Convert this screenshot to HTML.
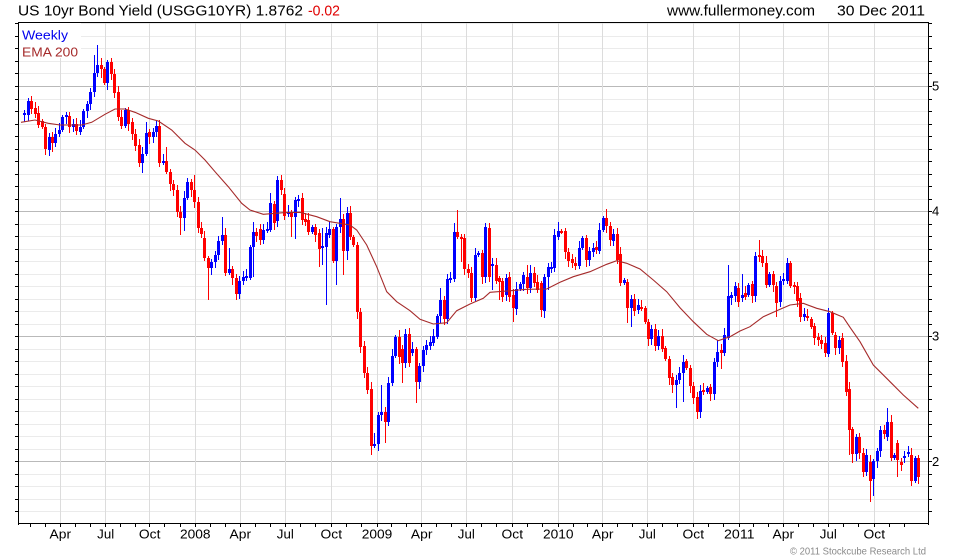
<!DOCTYPE html>
<html><head><meta charset="utf-8">
<style>
html,body{margin:0;padding:0;background:#fff;}
svg{display:block;}
text{font-family:"Liberation Sans",Arial,sans-serif;}
</style></head><body>
<svg id="c" width="980" height="560" viewBox="0 0 980 560" xmlns="http://www.w3.org/2000/svg">
<rect width="980" height="560" fill="#fff"/>
<g id="grid" shape-rendering="crispEdges"></g>
<rect x="19" y="23" width="62" height="35" fill="#fff"/>
<g id="candles" shape-rendering="crispEdges"></g>
<polyline id="ema" fill="none" stroke="#a52a2a" stroke-width="1.1" points=""/>
<g id="axes" shape-rendering="crispEdges"></g>
<g id="labels"></g>
<text x="18" y="15.5" font-size="15" textLength="285" lengthAdjust="spacingAndGlyphs" fill="#000">US 10yr Bond Yield (USGG10YR) 1.8762</text>
<text x="308" y="15.5" font-size="15" textLength="32" lengthAdjust="spacingAndGlyphs" fill="#e00000">-0.02</text>
<text x="667" y="15.5" font-size="15" textLength="148" lengthAdjust="spacingAndGlyphs" fill="#000">www.fullermoney.com</text>
<text x="837" y="15.5" font-size="15" textLength="88" lengthAdjust="spacingAndGlyphs" fill="#000">30 Dec 2011</text>
<text x="22" y="39.5" font-size="13" textLength="46" lengthAdjust="spacingAndGlyphs" fill="#0000ee">Weekly</text>
<text x="22" y="56.5" font-size="13" textLength="56" lengthAdjust="spacingAndGlyphs" fill="#a52a2a">EMA 200</text>
<text x="790" y="554.5" font-size="10.5" textLength="136" lengthAdjust="spacingAndGlyphs" fill="#8a8a8a">© 2011 Stockcube Research Ltd</text>
</svg>
<script>
(function(){
var NS="http://www.w3.org/2000/svg";
function el(parent,tag,attrs,txt){var e=document.createElementNS(NS,tag);for(var k in attrs)e.setAttribute(k,attrs[k]);if(txt!==undefined)e.textContent=txt;parent.appendChild(e);return e;}
var grid=document.getElementById('grid'),axes=document.getElementById('axes'),labels=document.getElementById('labels'),cg=document.getElementById('candles');
function Y(p){return 461.3-(p-2)*125.1;}
var L=18,R=929,T=22,B=524;
// horizontal grid
for(var k=15;k<=55;k++){var p=k/10;var y=Math.round(Y(p))+0.5;if(y<T||y>B)continue;
 var major=(k%10===0);
 el(grid,'line',{x1:L,x2:R,y1:y,y2:y,stroke:major?'#b9b9b9':'#ebebeb','stroke-width':1});
 el(axes,'line',{x1:15,x2:L,y1:y,y2:y,stroke:'#000','stroke-width':1});
 el(axes,'line',{x1:R,x2:R+3,y1:y,y2:y,stroke:'#000','stroke-width':1});
 if(major){el(labels,'text',{x:932,y:Y(p)+4.5,'font-size':13,fill:'#000'},String(k/10));}
}
var Q=[15,60.3,105.7,149.7,195.3,240.3,285.3,331.3,377,421.7,466.3,512.3,558.3,602.7,647.3,693.3,739.3,783.3,828.3,874.3,919.7];
var N=['','Apr','Jul','Oct','2008','Apr','Jul','Oct','2009','Apr','Jul','Oct','2010','Apr','Jul','Oct','2011','Apr','Jul','Oct'];
for(var i=1;i<=19;i++){var x=Math.floor(Q[i])+0.5;
 el(grid,'line',{x1:x,x2:x,y1:T,y2:B,stroke:'#dcdcdc','stroke-width':1});
 var w=N[i].length==4?30.5:(N[i]=='Jul'?17:21.5);
 el(labels,'text',{x:Q[i]-w/2,y:538.5,'font-size':13,fill:'#000',textLength:w,lengthAdjust:'spacingAndGlyphs'},N[i]);
}
for(var i=0;i<Q.length-1;i++){for(var j=0;j<3;j++){var x=Q[i]+(Q[i+1]-Q[i])*j/3;if(x<L+1||x>R-1)continue;x=Math.floor(x)+0.5;
 el(axes,'line',{x1:x,x2:x,y1:B,y2:B+3,stroke:'#000','stroke-width':1});}}
// frame
el(axes,'line',{x1:L+0.5,x2:L+0.5,y1:T,y2:B+1,stroke:'#000','stroke-width':1});
el(axes,'line',{x1:R-0.5,x2:R-0.5,y1:T,y2:B+1,stroke:'#000','stroke-width':1});
el(axes,'line',{x1:L,x2:R,y1:T+0.5,y2:T+0.5,stroke:'#000','stroke-width':1});
el(axes,'line',{x1:L,x2:R,y1:B-0.5,y2:B-0.5,stroke:'#000','stroke-width':1});
var D=[
[115,112.7],[115,101],[101,109],[108.3,114],[113.3,125],[121,126.7],[127.3,149.3],[150,136.7],[136.7,143.3],[143.3,134.3],
[134.3,130],[130,116.7],[116.7,115],[115.7,126.7],[126.7,124.3],[124.3,131],[131.7,126.7],[126.7,111],[111,104.3],[104.3,92.3],
[92.3,73.3],[73.3,65],[65,69.3],[69.3,83.3],[83.3,62.3],[62.3,74.3],[74.3,93.3],[92.3,116.7],[116.7,125.7],[125.7,110],
[110,124.3],[122.3,134.3],[134.3,145.7],[145,163.3],[163.3,154.3],[154.3,133.3],[132.3,137.3],[137.3,131.7],[131.7,125.7],[125.7,163.3],
[162.3,161],[161,171.7],[171.7,184.3],[184.3,190],[190,211.7],[211.7,218.3],[218.3,198.3],[198.3,181.7],[181.7,190],[190,201.7],
[201.7,228.3],[228.3,234.3],[237.7,257.7],[257.7,267.7],[267.7,261.7],[261.7,255],[255,241],[241,235],[235,272.7],[272.7,269.3],
[269.3,277.7],[277.7,294.3],[294.3,281],[281,276.7],[277.7,275.7],[277.7,246.7],[246.7,231.7],[231.7,236],[229.3,240],[240,230],
[230,229.3],[230,202.7],[204,223.3],[220.7,180],[180,190],[194,216],[214.3,211.7],[211.7,216.7],[217.3,200],[200.7,199.3],
[198.3,220],[219.3,221.7],[220,232.3],[232.3,226.7],[227.3,235],[233.3,249],[246.7,245.7],[246.7,233.3],[235,229],[229,260.7],
[260.7,227.3],[227.3,219.3],[219.3,250.7],[250.7,213.3],[213.3,236.7],[236.7,245],[245,311.7],[311.7,346.7],[346,373.3],[373.3,390],
[389.3,446],[446,444.3],[444.3,415],[415,412.3],[412.3,421.7],[421.7,383.3],[383.3,356],[356,336.7],[336.7,356.7],[349.3,362.7],
[362.7,334],[334,362.7],[352.7,349.3],[349.3,381.7],[381.7,366],[366,350],[350,345],[345.7,342.3],[343.3,336],[336.7,316],
[316,300],[300,319.3],[319.3,279.3],[279.3,278.3],[279.3,231.7],[231.7,237.3],[237.3,239.3],[238.3,269.3],[269.3,273.3],[273.3,298.3],
[298.3,255],[255,253.3],[253.3,276.7],[276.7,226.7],[228.3,276.7],[265.7,264.3],[265,281],[278.3,282.3],[281,296.7],[295,278.3],
[276.7,296.7],[295,308.3],[309,289.3],[289,284.3],[284.3,275],[276.7,287.7],[287.7,273.3],[273.3,283.3],[282.3,290],[283.3,310],
[311,276.7],[276.7,266.7],[268.3,266.7],[268.3,235],[236.7,231],[231,232.3],[231,251.7],[251.7,261],[259,263.3],[263.3,265.7],
[265.7,248.3],[248.3,238.3],[238.3,260],[260,251],[251.7,247.7],[246.7,250],[251,230],[230,217.7],[217.7,225.7],[225.7,240],
[241,234.3],[234.3,260],[254.3,283.3],[283.3,280],[281.7,307.7],[308.3,299],[299,311],[310,305],[306.7,308.3],[308.3,322.3],
[321.7,339],[339,329],[329,345.7],[345.7,335.7],[335.7,349],[348.3,359],[359,377.7],[376.7,385],[385,380],[380,373.3],
[373.3,361.7],[361,368.3],[368.3,385.7],[385.7,398.3],[396.7,412.3],[412.3,391],[390,391.7],[391.7,387.7],[386.7,394.3],[394.3,361.7],
[361.7,351.7],[350,352.7],[353.3,335],[338.3,296],[298.3,295],[296,286],[288.3,301.7],[298.3,295],[293.3,296.7],[295,285],
[284,296],[296,256],[255,257.3],[256,263.3],[262.7,285],[285,274],[274,285],[286,302.7],[301.7,280.7],[280.7,279],
[280.7,262.7],[262.7,286],[285,286.7],[286,300.7],[298.3,317.3],[317.3,314],[316,318.3],[319.3,326.7],[326,338.3],[336.7,340],
[340,344],[342.7,353.3],[354,312.7],[312.7,332.7],[335,348.3],[348.3,340],[338.3,361.7],[360.7,391.7],[389.3,430],[429.3,454],
[454,437.3],[437.3,452.7],[452.7,471.7],[471.7,455],[461.7,480.7],[479.3,460.7],[460.7,450.7],[450.7,430],[430,434],[436.7,421.7],
[421.7,458.3],[458.3,455],[443.3,460],[461.7,465],[458.3,456],[452.7,451.7],[455,480.7],[480.7,458.3],[458.3,477.3]
];
var HI={2:97.7,21:55,22:45,25:60,36:122.3,42:146.7,48:178.3,50:175,58:216.7,60:247.7,67:222.3,72:193.3,74:176,87:228.3,92:198.3,102:433,104:385,109:330,121:288.3,125:223.3,126:210,146:265,147:265,155:221.7,169:209,201:340,204:265,208:274,213:240,221:258.3,233:308.3,250:408.3};
var LO={7:155,8:155.7,9:151.7,23:78,35:173.3,46:235,47:231,54:300,67:276.7,78:236.7,79:239.3,86:266.7,87:265,88:305,91:285,93:275,94:260,101:455,105:443,110:383,114:402.7,127:261.7,136:290,138:300,139:301.7,142:321.7,143:315,150:316.7,152:290,175:323.3,176:326.7,188:393,189:408.3,191:401.7,195:419,196:417.7,202:369.3,218:317.3,239:455,240:463.3,245:501.7,246:496,253:476.7,257:486};
for(var i=0;i<D.length;i++){
 var n=i+1,o=D[i][0],c=D[i][1];
 var top=Math.min(o,c),bot=Math.max(o,c);
 var hi=top-(2+((n*37)%6)),lo=bot+(2+((n*53)%6));
 if(HI[n]!==undefined)hi=Math.min(HI[n],top);
 if(LO[n]!==undefined)lo=Math.max(LO[n],bot);
 var col=(c<=o)?'#0000ff':'#ff0000';
 var cx=Math.round(24.3+i*3.465);
 el(cg,'rect',{x:cx,y:Math.round(hi),width:1,height:Math.max(1,Math.round(lo)-Math.round(hi)),fill:col});
 var bt=Math.round(top),bb=Math.round(bot);
 el(cg,'rect',{x:cx-1,y:bt,width:3,height:Math.max(2,bb-bt),fill:col});
}
var E=[[21,122.3],[35,120],[48.3,123.3],[60,125],[81.7,125],[91.7,122.3],[105,114.3],[115,109],[125,109],[135,112.3],[148.3,118.3],[158.3,121],[171.7,130],[185,143.3],[195,150],[205,160],[215,171.7],[228.3,186.7],[241.7,203.3],[250,210],[263.3,214.3],[283.3,212.7],[300,212.3],[316.7,216.7],[330,221.7],[350,225],[356.7,230],[366.7,245],[376.7,266.7],[386.7,291.7],[396.7,301.7],[410,310.7],[420,319.3],[433.3,324],[446.7,322.7],[456.7,310.7],[470,304],[483.3,298.3],[490,292.3],[506.7,291],[526.7,289.3],[546.7,289],[560,282.3],[573.3,276.7],[590,271.7],[606.7,264.3],[616.7,260.7],[626.7,263.3],[640,269],[653.3,280],[666.7,291.7],[680,307.7],[693.3,321.7],[706.7,334.3],[718.3,340.7],[730,336.7],[740,331],[750,326.7],[763.3,316.7],[776.7,310.7],[790,305],[803.3,303.3],[816.7,308.3],[830,311.7],[843.3,317.3],[850,327.3],[860,341.7],[873.3,365],[890,381.7],[903.3,395],[918.3,408.3]];
document.getElementById('ema').setAttribute('points',E.map(function(p){return p[0]+','+p[1];}).join(' '));
})();
</script>
</body></html>
